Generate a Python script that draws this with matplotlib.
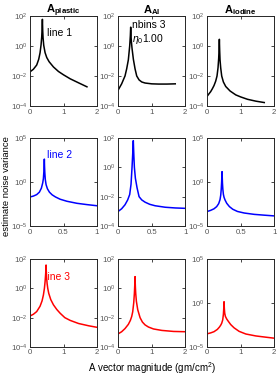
import matplotlib
matplotlib.use("Agg")
import matplotlib.pyplot as plt
from matplotlib.ticker import FixedLocator, LogFormatterSciNotation, NullLocator

plt.rcParams['font.family'] = ['Liberation Sans', 'DejaVu Sans']
plt.rcParams['mathtext.fontset'] = 'custom'
plt.rcParams['mathtext.rm'] = 'Liberation Sans'
plt.rcParams['mathtext.it'] = 'Liberation Sans:italic'
plt.rcParams['mathtext.bf'] = 'Liberation Sans:bold'

# ---------------- data ----------------
col_titles = ["plastic", "Al", "iodine"]
line_colors = ["black", "blue", "red"]

# row 1 (black)
x_r1c1 = [0, 0.1, 0.2, 0.26, 0.3, 0.33, 0.35, 0.36, 0.365, 0.37, 0.375, 0.38, 0.39, 0.41, 0.45, 0.5, 0.57, 0.7, 0.85, 1.0, 1.2, 1.45, 1.7]
y_r1c1 = [0.019, 0.028, 0.054, 0.13, 0.35, 1.2, 4, 12, 28, 60, 25, 10, 3.5, 1.1, 0.36, 0.17, 0.09, 0.04, 0.02, 0.012, 0.0065, 0.0035, 0.0019]
x_r1c2 = [0, 0.05, 0.1, 0.15, 0.2, 0.25, 0.3, 0.34, 0.36, 0.365, 0.37, 0.375, 0.38, 0.39, 0.41, 0.45, 0.5, 0.55, 0.62, 0.7, 0.8, 1.0, 1.2, 1.45, 1.7]
y_r1c2 = [0.0012, 0.0019, 0.003, 0.0055, 0.01, 0.03, 0.12, 1.0, 5, 10, 18, 9, 4.5, 2.0, 0.7, 0.13, 0.03, 0.01, 0.0055, 0.004, 0.0034, 0.003, 0.0029, 0.0029, 0.003]
x_r1c3 = [0, 0.05, 0.1, 0.15, 0.2, 0.25, 0.29, 0.32, 0.34, 0.35, 0.355, 0.36, 0.365, 0.37, 0.38, 0.4, 0.43, 0.48, 0.55, 0.68, 0.85, 1.0, 1.2, 1.45, 1.7]
y_r1c3 = [4.6e-4, 6.5e-4, 9e-4, 1.4e-3, 2.3e-3, 4.5e-3, 0.01, 0.035, 0.15, 0.5, 1.2, 2.8, 1.1, 0.45, 0.12, 0.035, 0.01, 4e-3, 2e-3, 1e-3, 5.5e-4, 4e-4, 2.8e-4, 2.1e-4, 1.7e-4]

# row 2 (blue)
x_r2c1 = [0, 0.05, 0.1, 0.14, 0.17, 0.19, 0.2, 0.207, 0.211, 0.214, 0.217, 0.221, 0.228, 0.24, 0.26, 0.29, 0.33, 0.38, 0.45, 0.55, 0.7, 0.85, 1.0]
y_r2c1 = [0.02, 0.025, 0.037, 0.07, 0.2, 0.8, 2.5, 15, 70, 400, 60, 12, 2, 0.5, 0.17, 0.07, 0.035, 0.02, 0.011, 0.0065, 0.0038, 0.0027, 0.002]
x_r2c2 = [0, 0.05, 0.1, 0.14, 0.17, 0.19, 0.205, 0.215, 0.22, 0.224, 0.228, 0.233, 0.24, 0.255, 0.28, 0.31, 0.35, 0.4, 0.47, 0.55, 0.7, 0.85, 1.0]
y_r2c2 = [1e-3, 1.5e-3, 2.8e-3, 6e-3, 0.014, 0.07, 1.0, 8, 25, 66, 20, 5, 1.0, 0.18, 0.04, 0.01, 6e-3, 4.2e-3, 3e-3, 2.4e-3, 1.9e-3, 1.7e-3, 1.6e-3]
x_r2c3 = [0, 0.05, 0.1, 0.14, 0.17, 0.19, 0.2, 0.208, 0.214, 0.22, 0.226, 0.232, 0.24, 0.25, 0.265, 0.29, 0.33, 0.38, 0.45, 0.55, 0.7, 0.85, 1.0]
y_r2c3 = [4.5e-4, 6e-4, 9e-4, 1.6e-3, 3.5e-3, 0.01, 0.03, 0.15, 1, 15, 0.8, 0.15, 0.04, 0.018, 0.009, 3.8e-3, 1.6e-3, 8e-4, 4.5e-4, 3e-4, 2.1e-4, 1.7e-4, 1.4e-4]

# row 3 (red)
x_r3c1 = [0, 0.1, 0.2, 0.3, 0.36, 0.4, 0.43, 0.45, 0.465, 0.475, 0.48, 0.485, 0.495, 0.51, 0.53, 0.56, 0.62, 0.7, 0.8, 0.9, 1.04, 1.2, 1.45, 1.75, 2.0]
y_r3c1 = [0.013, 0.017, 0.026, 0.06, 0.14, 0.35, 1.0, 2.8, 8, 20, 39, 18, 6, 2.2, 1.0, 0.45, 0.17, 0.075, 0.036, 0.02, 0.01, 6.5e-3, 4e-3, 2.8e-3, 2.2e-3]
x_r3c2 = [0, 0.1, 0.2, 0.3, 0.36, 0.4, 0.43, 0.46, 0.48, 0.49, 0.495, 0.5, 0.505, 0.51, 0.52, 0.54, 0.58, 0.65, 0.72, 0.8, 0.9, 1.05, 1.3, 1.65, 2.0]
y_r3c2 = [8e-4, 1.1e-3, 1.8e-3, 3.5e-3, 6.5e-3, 0.012, 0.025, 0.1, 0.45, 1.4, 2.8, 6.3, 2.5, 1.2, 0.45, 0.13, 0.035, 0.01, 5e-3, 3.2e-3, 2.3e-3, 1.7e-3, 1.35e-3, 1.15e-3, 1.1e-3]
x_r3c3 = [0, 0.1, 0.2, 0.3, 0.36, 0.4, 0.43, 0.46, 0.48, 0.49, 0.495, 0.5, 0.505, 0.51, 0.52, 0.54, 0.58, 0.63, 0.7, 0.8, 0.95, 1.15, 1.45, 1.75, 2.0]
y_r3c3 = [3.2e-4, 4e-4, 5.5e-4, 1e-3, 1.8e-3, 3e-3, 5e-3, 0.012, 0.05, 0.2, 0.5, 1.4, 0.45, 0.2, 0.07, 0.03, 0.015, 8e-3, 3.5e-3, 1.5e-3, 6e-4, 3e-4, 1.8e-4, 1.3e-4, 1e-4]

xs = [[x_r1c1, x_r1c2, x_r1c3], [x_r2c1, x_r2c2, x_r2c3], [x_r3c1, x_r3c2, x_r3c3]]
ys = [[y_r1c1, y_r1c2, y_r1c3], [y_r2c1, y_r2c2, y_r2c3], [y_r3c1, y_r3c2, y_r3c3]]

xlims = [(0, 2), (0, 1), (0, 2)]
xticks = [[0, 1, 2], [0, 0.5, 1], [0, 1, 2]]
xticklabels = [["0", "1", "2"], ["0", "0.5", "1"], ["0", "1", "2"]]
ylims = [[(1e-4, 1e2), (1e-4, 1e2), (1e-4, 1e2)],
         [(1e-5, 1e5), (1e-4, 1e2), (1e-5, 1e5)],
         [(1e-4, 1e2), (1e-4, 1e2), (1e-5, 1e5)]]
yticks = [[[1e-4, 1e-2, 1e0, 1e2]] * 3,
          [[1e-5, 1e0, 1e5], [1e-4, 1e-2, 1e0, 1e2], [1e-5, 1e0, 1e5]],
          [[1e-4, 1e-2, 1e0, 1e2], [1e-4, 1e-2, 1e0, 1e2], [1e-5, 1e0, 1e5]]]

# ---------------- layout ----------------
W, H = 278, 377
fig = plt.figure(figsize=(W / 100, H / 100), dpi=100)
col_left = [30, 118.3, 207.3]
col_w = 67
row_top = [16, 138, 259]
row_h = [90, 88, 88]
axc = '#262626'

axes = [[None] * 3 for _ in range(3)]
for r in range(3):
    for c in range(3):
        l = col_left[c] / W
        b = 1 - (row_top[r] + row_h[r]) / H
        ax = fig.add_axes([l, b, col_w / W, row_h[r] / H])
        axes[r][c] = ax
        ax.plot(xs[r][c], ys[r][c], color=line_colors[r], lw=1.1)
        ax.set_yscale('log')
        ax.set_xlim(*xlims[r])
        ax.set_ylim(*ylims[r][c])
        ax.yaxis.set_major_locator(FixedLocator(yticks[r][c]))
        ax.yaxis.set_major_formatter(LogFormatterSciNotation())
        ax.yaxis.set_minor_locator(NullLocator())
        ax.set_xticks(xticks[r])
        ax.set_xticklabels(xticklabels[r])
        ax.tick_params(direction='in', length=2, width=0.6, labelsize=5.6,
                       colors=axc, labelcolor='#555555', top=True, right=True, pad=1.8)
        for s in ax.spines.values():
            s.set_color(axc)
            s.set_linewidth(0.7)

for c in range(3):
    axes[0][c].set_title(r"$\mathbf{A}_{\mathbf{%s}}$" % col_titles[c], fontsize=8, pad=2, color='black')

axes[0][0].text(0.51, 7.4, "line 1", fontsize=7.5, va='center', ha='left', color='black')
axes[0][1].text(0.41, 25, "nbins 3", fontsize=7.5, va='center', ha='left', color='black')
axes[0][1].text(0.41, 3.0, r"$\eta_0$1.00", fontsize=7.5, va='center', ha='left', color='black')
axes[1][0].text(0.25, 1.2e3, "line 2", fontsize=7.5, va='center', ha='left', color='blue')
axes[2][0].text(0.45, 5.6, "line 3", fontsize=7.5, va='center', ha='left', color='red')

fig.text(6.5 / W, 1 - 186 / H, "estimate noise variance", rotation=90, fontsize=6.8,
         ha='center', va='center', color='black')
fig.text(152 / W, 1 - 368 / H, r"A vector magnitude (gm/cm$^2$)", fontsize=7,
         ha='center', va='center', color='black')

fig.savefig("out.png", dpi=100)
